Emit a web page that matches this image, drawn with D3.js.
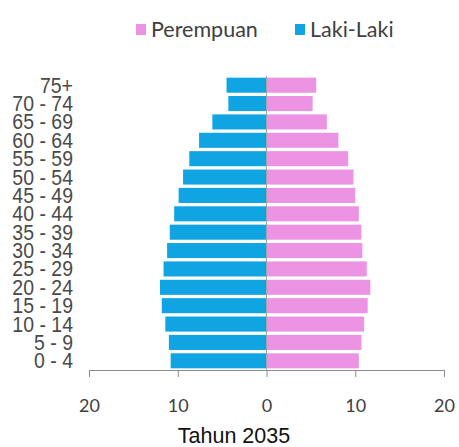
<!DOCTYPE html>
<meta charset="utf-8">
<script src="https://d3js.org/d3.v7.js"></script>
<style>
  body { margin: 0; background: #fff; }
</style>
<div id="my_dataviz"></div>
<script>

// age groups, top to bottom
var ageGroups = ["75+", "70 - 74", "65 - 69", "60 - 64", "55 - 59", "50 - 54", "45 - 49",
                 "40 - 44", "35 - 39", "30 - 34", "25 - 29", "20 - 24", "15 - 19",
                 "10 - 14", "5 - 9", "0 - 4"];
// percent, Laki-Laki (left)
var male = [4.5, 4.3, 6.1, 7.6, 8.7, 9.4, 9.9, 10.4, 10.9, 11.2, 11.6, 12.0, 11.8, 11.4, 11.0, 10.8];
// percent, Perempuan (right)
var female = [5.6, 5.2, 6.8, 8.1, 9.2, 9.8, 10.0, 10.4, 10.7, 10.8, 11.3, 11.7, 11.4, 11.0, 10.7, 10.4];
var tickValues = [-20, -10, 0, 10, 20];
var chartTitle = "Tahun 2035";

var width = 459, height = 447;
var margin = {top: 76, bottom: 77, left: 89, right: 15};

var blue = "#10a5e2", pink = "#ec94e3";

var svg = d3.select("#my_dataviz").append("svg")
    .attr("width", width)
    .attr("height", height);

var x = d3.scaleLinear()
    .domain([-20, 20])
    .range([margin.left, 444]);

var y = d3.scaleBand()
    .domain(ageGroups)
    .range([margin.top, height - margin.bottom])
    .paddingInner(0.18)
    .paddingOuter(0.09);

var rows = ageGroups.map(function(d, i) { return {age: d, m: male[i], f: female[i]}; });

svg.selectAll("rect.male")
  .data(rows)
  .enter().append("rect")
    .attr("class", "male")
    .attr("x", function(d) { return x(-d.m); })
    .attr("y", function(d) { return y(d.age); })
    .attr("width", function(d) { return x(0) - x(-d.m); })
    .attr("height", y.bandwidth())
    .attr("fill", blue);

svg.selectAll("rect.female")
  .data(rows)
  .enter().append("rect")
    .attr("class", "female")
    .attr("x", x(0))
    .attr("y", function(d) { return y(d.age); })
    .attr("width", function(d) { return x(d.f) - x(0); })
    .attr("height", y.bandwidth())
    .attr("fill", pink);

// center line
svg.append("line")
    .attr("x1", x(0)).attr("x2", x(0))
    .attr("y1", y.range()[0]).attr("y2", y.range()[1])
    .attr("stroke", "#9aa6ad")
    .attr("stroke-width", 1);

// x axis
var xAxis = d3.axisBottom(x)
    .tickValues(tickValues)
    .tickFormat(function(d) { return Math.abs(d); })
    .tickSizeInner(7)
    .tickSizeOuter(0)
    .tickPadding(22);

var gx = svg.append("g")
    .attr("transform", "translate(0," + (height - margin.bottom) + ")")
    .call(xAxis);
gx.select(".domain").attr("stroke", "#8c8c8c");
gx.selectAll(".tick line").attr("stroke", "#8c8c8c");
gx.selectAll(".tick text")
    .attr("fill", "#404040")
    .style("font-family", "Lato, 'Open Sans', sans-serif")
    .style("font-size", "18px");

// y labels (tall lettering, lines nearly touching)
svg.selectAll("text.age")
  .data(ageGroups)
  .enter().append("text")
    .attr("class", "age")
    .attr("transform", function(d) {
      return "translate(73," + (y(d) + y.bandwidth() / 2 + 7.5) + ") scale(1,1.1)";
    })
    .attr("text-anchor", "end")
    .attr("fill", "#4a4a4a")
    .style("font-family", "'Liberation Sans', sans-serif")
    .style("font-size", "19.5px")
    .text(function(d) { return d; });

// title
svg.append("text")
    .attr("x", 234)
    .attr("y", 443)
    .attr("text-anchor", "middle")
    .attr("fill", "#111")
    .style("font-family", "'Liberation Sans', Arial, sans-serif")
    .style("font-size", "21.5px")
    .text(chartTitle);

// legend
var legendItems = [{label: "Perempuan", color: pink, x: 136}, {label: "Laki-Laki", color: blue, x: 295}];
var legend = svg.selectAll("g.legend")
  .data(legendItems)
  .enter().append("g")
    .attr("class", "legend")
    .attr("transform", function(d) { return "translate(" + d.x + ",29)"; });

legend.append("rect")
    .attr("x", 0).attr("y", -5)
    .attr("width", 10).attr("height", 11)
    .attr("fill", function(d) { return d.color; });

legend.append("text")
    .attr("x", 15).attr("y", 8)
    .attr("fill", "#404040")
    .style("font-family", "Lato, 'Open Sans', sans-serif")
    .style("font-size", "21.5px")
    .text(function(d) { return d.label; });

</script>
